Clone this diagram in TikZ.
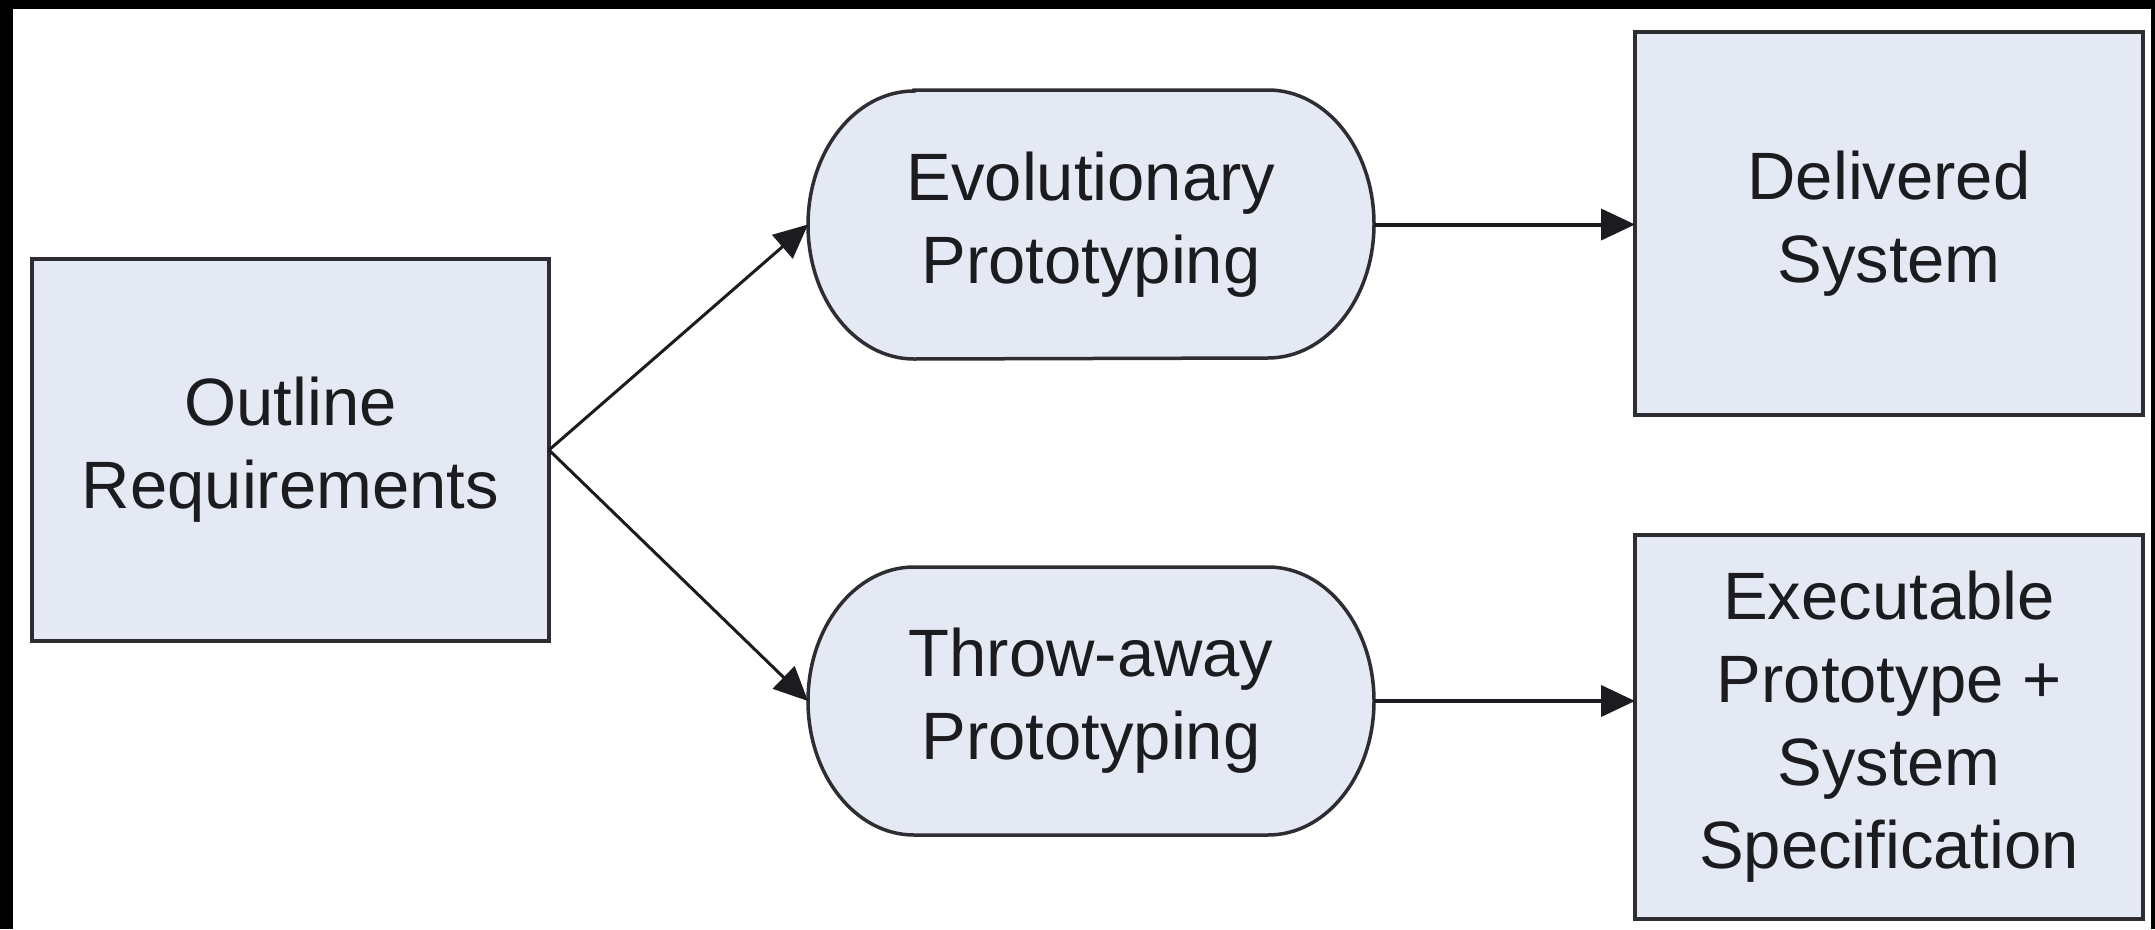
\documentclass[tikz,border=0pt]{standalone}
\usepackage{fontspec}
\setmainfont{Liberation Sans}
\usetikzlibrary{arrows.meta,backgrounds,calc}
\definecolor{boxfill}{RGB}{228,233,243}
\definecolor{edge}{RGB}{45,45,50}
\definecolor{ink}{RGB}{28,28,32}
\begin{document}
\begin{tikzpicture}[x=1pt,y=-1pt,
  lbl/.style={font=\fontsize{67pt}{83pt}\selectfont, text=ink, align=center, inner sep=0pt, outer sep=0pt},
  sqbox/.style={lbl, draw=edge, line width=4pt, fill=boxfill},
  stadpath/.style={fill=boxfill, draw=edge, line width=3.5pt},
  conn/.style={draw=ink, line width=#1, -{Triangle[length=34pt,width=31pt]}},
  conn/.default=4pt]
\useasboundingbox (0,0) rectangle (2155,929);
\begin{scope}[on background layer]
  \fill[white] (0,0) rectangle (2155,929);
  \fill[black] (0,0) rectangle (2155,9);
  \fill[black] (0,0) rectangle (13,929);
  \fill[black] (2151,0) rectangle (2155,929);
\end{scope}

\node[sqbox, minimum width=517pt, minimum height=382pt] (out) at (290.5,450) {Outline\\Requirements};
\node[lbl, minimum width=566pt, minimum height=269pt] (evo) at (1091,224.5) {Evolutionary\\Prototyping};
\node[lbl, minimum width=566pt, minimum height=268pt] (thr) at (1091,701) {Throw-away\\Prototyping};
\node[sqbox, minimum width=508pt, minimum height=383pt] (del) at (1889,223.5) {Delivered\\System};
\node[sqbox, minimum width=508pt, minimum height=384pt] (exe) at (1889,727) {Executable\\Prototype +\\System\\Specification};

\begin{scope}[on background layer]
\foreach \n in {evo,thr}{
  \path[stadpath] ([xshift=106pt]\n.north west) -- ([xshift=-106pt]\n.north east)
    arc[start angle=90,end angle=-90,x radius=106pt,y radius=134pt]
    -- ([xshift=106pt]\n.south west)
    arc[start angle=270,end angle=90,x radius=106pt,y radius=134pt] -- cycle;
}
\end{scope}

\draw[conn=3pt] (out.east) -- (evo.west);
\draw[conn=3pt] (out.east) -- (thr.west);
\draw[conn] (evo.east) -- (evo.east -| del.west);
\draw[conn] (thr.east) -- (thr.east -| exe.west);
\end{tikzpicture}
\end{document}
